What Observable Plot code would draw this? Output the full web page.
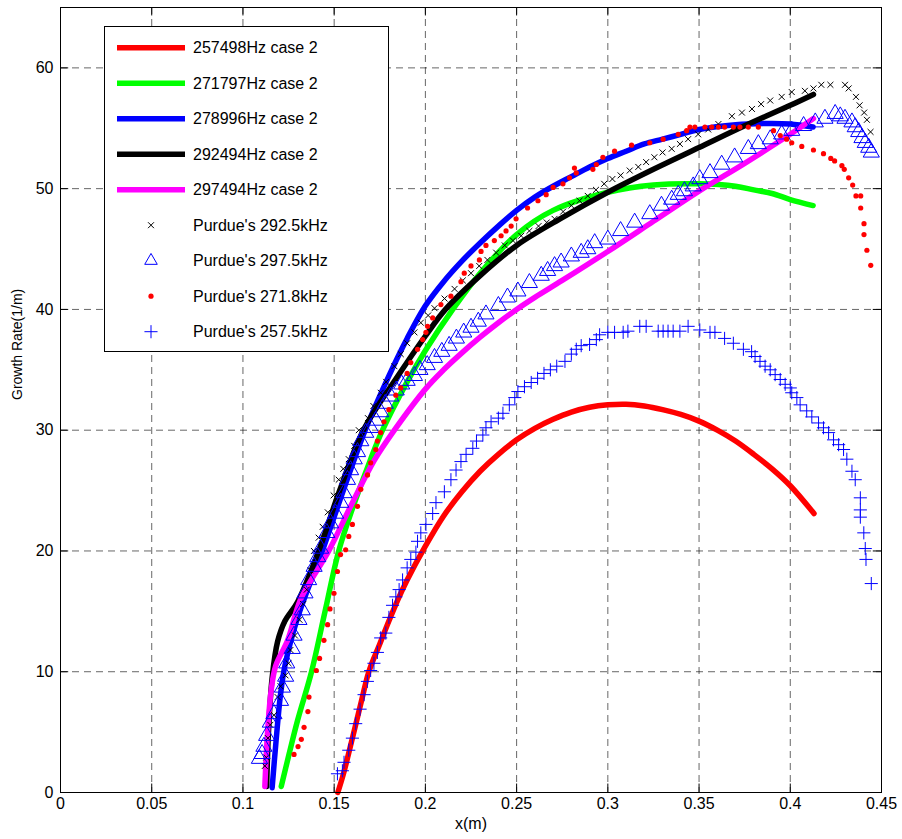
<!DOCTYPE html>
<html>
<head>
<meta charset="utf-8">
<script src="https://cdn.jsdelivr.net/npm/d3@7"></script>
<script src="https://cdn.jsdelivr.net/npm/@observablehq/plot@0.6"></script>
<style>
  html, body { margin: 0; padding: 0; background: #fff; }
  #wrap { position: relative; width: 902px; height: 839px; }
  #legend { position: absolute; left: 0; top: 0; }
</style>
</head>
<body>
<div id="wrap"></div>
<script>
// ---- Data ----
const xTicks = [0, 0.05, 0.1, 0.15, 0.2, 0.25, 0.3, 0.35, 0.4, 0.45];
const yTicks = [0, 10, 20, 30, 40, 50, 60];

const seriesNames = [
  "257498Hz case 2", "271797Hz case 2", "278996Hz case 2", "292494Hz case 2", "297494Hz case 2",
  "Purdue's 292.5kHz", "Purdue's 297.5kHz", "Purdue's 271.8kHz", "Purdue's 257.5kHz"
];

const line257498 = [[0.152,0],[0.155,1.5],[0.16,4.5],[0.165,7.6],[0.169,10],[0.175,12.3],[0.18,14.2],[0.185,16.0],[0.19,17.6],[0.2,20.4],[0.21,22.9],[0.22,24.9],[0.23,26.6],[0.24,28.0],[0.25,29.2],[0.26,30.15],[0.27,30.9],[0.28,31.5],[0.29,31.9],[0.3,32.1],[0.31,32.15],[0.32,32.0],[0.33,31.7],[0.34,31.3],[0.35,30.75],[0.36,30.0],[0.37,29.1],[0.38,28.0],[0.39,26.8],[0.4,25.4],[0.413,23.1]];
const line271797 = [[0.121,0.5],[0.125,3],[0.13,6],[0.1376,10],[0.145,15],[0.1525,20],[0.16,23.5],[0.17,27.6],[0.1765,30],[0.19,34],[0.2,36.6],[0.215,40],[0.23,43],[0.25,46.2],[0.27,48.2],[0.3,49.7],[0.325,50.3],[0.35,50.4],[0.37,50.2],[0.38,49.9],[0.39,49.6],[0.4,49.1],[0.4125,48.6]];
const line278996 = [[0.116,0.4],[0.118,4],[0.1205,8],[0.123,10.5],[0.13,14.5],[0.1435,20],[0.155,25],[0.167,30],[0.18,34.5],[0.19,37.6],[0.2,40.3],[0.21,42.3],[0.22,44.0],[0.23,45.5],[0.24,46.9],[0.25,48.2],[0.26,49.3],[0.27,50.2],[0.28,51.0],[0.29,51.8],[0.3,52.5],[0.31,53.1],[0.32,53.7],[0.33,54.1],[0.34,54.5],[0.35,54.9],[0.37,55.3],[0.39,55.4],[0.4,55.35],[0.4125,55.1]];
const line292494 = [[0.113,0.5],[0.114,5],[0.116,9.5],[0.119,12.5],[0.123,14.2],[0.13,15.8],[0.1415,20],[0.153,25],[0.166,30],[0.185,34.5],[0.2,37.8],[0.211,40],[0.23,42.8],[0.25,45.3],[0.275,47.6],[0.3,49.7],[0.325,51.6],[0.35,53.4],[0.375,55.2],[0.4,56.9],[0.4127,57.8]];
const line297494 = [[0.112,0.5],[0.1135,5],[0.1155,8.5],[0.118,10.5],[0.1245,12.6],[0.1316,16],[0.147,20],[0.16,24],[0.172,27.5],[0.183,30],[0.2,33.4],[0.21,35.0],[0.22,36.4],[0.23,37.7],[0.24,38.9],[0.25,40.0],[0.26,41.0],[0.275,42.4],[0.3,44.8],[0.325,47.3],[0.35,49.8],[0.375,52.1],[0.4,54.5],[0.4127,55.8]];

const purdue292 = [[0.112,2.2],[0.1128,2.9],[0.1137,4.5],[0.115,5.6],[0.117,6.4],[0.119,7.9],[0.1206,8.8],[0.1233,9.7],[0.125,10.7],[0.126,11.8],[0.1285,13.0],[0.131,14.3],[0.133,15.6],[0.135,16.8],[0.137,18.4],[0.1389,20],[0.1415,21.1],[0.1437,22.0],[0.1465,23.2],[0.1497,24.6],[0.1525,25.9],[0.155,26.8],[0.158,27.6],[0.161,28.7],[0.1635,30],[0.1685,31.0],[0.1715,32.0],[0.1755,33.1],[0.1785,34.0],[0.183,35.3],[0.1865,36.3],[0.19,37.2],[0.194,38.1],[0.1975,38.9],[0.2015,39.5],[0.205,40.1],[0.2105,40.9],[0.216,41.7],[0.2205,42.4],[0.225,43.0],[0.2295,43.6],[0.234,44.1],[0.2388,44.7],[0.2435,45.3],[0.248,45.7],[0.2525,46.1],[0.257,46.5],[0.262,46.9],[0.2665,47.2],[0.2708,47.5],[0.2755,48.1],[0.28,48.6],[0.2845,49.0],[0.289,49.4],[0.2935,49.9],[0.298,50.4],[0.3025,50.8],[0.307,51.1],[0.312,51.5],[0.3167,51.8],[0.321,52.2],[0.3255,52.6],[0.33,53.0],[0.335,53.3],[0.3395,53.7],[0.344,54.1],[0.3495,54.5],[0.355,54.9],[0.3606,55.35],[0.368,56.0],[0.3735,56.3],[0.379,56.6],[0.384,57.0],[0.389,57.3],[0.3953,57.6],[0.4008,58.0],[0.408,58.1],[0.4127,58.3],[0.417,58.6],[0.422,58.6],[0.43,58.6],[0.432,58.3],[0.436,57.6],[0.438,56.9],[0.4405,56.3],[0.442,55.7],[0.444,54.7]];

const purdue297 = [[0.109,2.8],[0.1105,3.2],[0.1115,3.8],[0.113,4.7],[0.115,5.8],[0.117,6.5],[0.1206,7.6],[0.1216,8.7],[0.1234,9.6],[0.124,10.7],[0.127,11.9],[0.128,13.0],[0.1307,14.3],[0.1325,15.1],[0.134,16.5],[0.136,17.6],[0.139,18.7],[0.141,19.5],[0.1426,20.2],[0.146,21.5],[0.148,22.3],[0.1508,23.1],[0.1536,24.0],[0.1554,24.8],[0.1573,25.9],[0.159,26.7],[0.161,27.6],[0.1628,28.2],[0.1646,29.1],[0.1673,29.8],[0.17,30.2],[0.1728,30.8],[0.1755,31.5],[0.178,32.2],[0.181,32.8],[0.184,33.3],[0.187,33.8],[0.19,34.1],[0.194,34.5],[0.197,35.0],[0.201,35.4],[0.205,36.0],[0.209,36.5],[0.213,37.0],[0.217,37.6],[0.221,38.1],[0.225,38.5],[0.229,39.0],[0.2332,39.6],[0.24,40.3],[0.245,41.0],[0.2507,41.5],[0.257,42.2],[0.2635,42.8],[0.267,43.2],[0.2708,43.6],[0.2744,43.9],[0.28,44.4],[0.2854,44.7],[0.289,45.0],[0.2928,45.5],[0.3,45.8],[0.307,46.5],[0.3147,47.2],[0.323,47.9],[0.3294,48.6],[0.335,49.1],[0.3386,49.5],[0.342,49.8],[0.3468,50.2],[0.3504,50.8],[0.356,51.3],[0.3624,52.0],[0.3695,52.6],[0.377,53.3],[0.3825,53.7],[0.389,54.1],[0.3953,54.5],[0.4008,54.8],[0.4073,55.2],[0.4137,55.5],[0.419,55.8],[0.4246,56.2],[0.4274,56.0],[0.43,55.8],[0.4338,55.5],[0.4356,55.1],[0.4375,54.7],[0.4393,54.2],[0.4411,53.8],[0.443,53.4],[0.4444,53.0]];

const purdue271 = [[0.128,3.15],[0.1302,3.8],[0.132,4.4],[0.1335,5.4],[0.1356,6.7],[0.1362,7.9],[0.1402,10.1],[0.142,11.1],[0.1444,12.6],[0.1464,13.9],[0.1477,15.2],[0.1499,16.5],[0.1518,18.3],[0.1535,19.7],[0.1563,20.1],[0.158,21.2],[0.16,22.2],[0.1628,23.7],[0.1646,25.1],[0.1683,26.3],[0.17,27.3],[0.1728,28.4],[0.1737,29.1],[0.1755,29.8],[0.1773,30.7],[0.18,31.7],[0.1838,32.9],[0.1865,33.5],[0.19,34.7],[0.192,35.6],[0.1957,36.7],[0.1985,37.5],[0.2003,38.1],[0.2012,38.6],[0.204,39.3],[0.2085,40.4],[0.214,41.1],[0.2195,42.3],[0.2213,43.0],[0.225,43.6],[0.2296,44.1],[0.2305,44.8],[0.2332,45.3],[0.2378,45.7],[0.2415,46.1],[0.2442,46.5],[0.247,46.9],[0.2497,47.5],[0.256,48.4],[0.2617,49.0],[0.2662,49.5],[0.27,50.1],[0.2754,50.4],[0.279,50.9],[0.2817,51.7],[0.2827,51.3],[0.2918,51.6],[0.2937,52.0],[0.2973,52.6],[0.3037,53.1],[0.313,53.6],[0.323,53.8],[0.3303,54.1],[0.3386,54.5],[0.3432,54.8],[0.345,55.1],[0.3477,55.1],[0.3532,55.1],[0.3569,55.1],[0.3606,55.1],[0.364,55.1],[0.3688,55.1],[0.3724,55.1],[0.377,55.1],[0.3825,55.1],[0.3908,54.8],[0.3945,54.4],[0.398,54.1],[0.4008,53.8],[0.4063,53.5],[0.4127,53.2],[0.4182,52.9],[0.4222,52.5],[0.4243,52.3],[0.4283,51.9],[0.4296,51.6],[0.432,50.9],[0.4342,50.3],[0.436,49.4],[0.4386,49.4],[0.4386,48.4],[0.4404,47.1],[0.4404,46.2],[0.442,44.9],[0.4441,43.65]];

const purdue257 = [[0.1518,1.55],[0.1545,1.8],[0.1554,2.5],[0.158,3.5],[0.16,4.5],[0.1618,5.7],[0.1642,6.9],[0.1664,8.1],[0.1682,9.2],[0.17,10.1],[0.1718,10.7],[0.1737,11.6],[0.1755,12.8],[0.1783,13.2],[0.18,14.5],[0.182,15.5],[0.1838,16.2],[0.1856,16.8],[0.1875,17.6],[0.19,18.6],[0.192,19.3],[0.1948,19.9],[0.1957,20.8],[0.1975,21.5],[0.2003,22.2],[0.204,23.1],[0.2058,24.0],[0.2104,24.9],[0.214,25.9],[0.2168,26.7],[0.2195,27.4],[0.2223,28.0],[0.226,28.5],[0.228,29.1],[0.2315,29.6],[0.2332,30.2],[0.236,30.7],[0.24,31.0],[0.2425,31.4],[0.246,32.1],[0.249,32.7],[0.2507,33.2],[0.2543,33.6],[0.258,33.95],[0.2615,34.3],[0.265,34.7],[0.2685,35.0],[0.272,35.3],[0.2765,35.7],[0.28,36.3],[0.2827,36.7],[0.2854,37.0],[0.29,37.1],[0.2937,37.5],[0.2955,37.9],[0.3,38.1],[0.3037,38.1],[0.3084,38.1],[0.311,38.2],[0.3175,38.6],[0.321,38.6],[0.3276,38.2],[0.3303,38.2],[0.333,38.2],[0.3358,38.2],[0.3395,38.2],[0.344,38.6],[0.3504,38.3],[0.356,38.1],[0.3587,38.1],[0.364,37.6],[0.3688,37.2],[0.3743,36.7],[0.3788,36.5],[0.3807,36.1],[0.3834,35.7],[0.3862,35.3],[0.389,35.0],[0.3917,34.6],[0.3945,34.2],[0.3972,33.8],[0.4,33.5],[0.4008,33.1],[0.4036,32.7],[0.4054,32.1],[0.409,31.6],[0.4118,31.1],[0.4155,30.6],[0.4182,30.2],[0.421,29.8],[0.4237,29.2],[0.4265,28.8],[0.4292,28.4],[0.431,27.6],[0.4338,26.6],[0.4356,25.9],[0.4384,24.4],[0.4384,23.4],[0.4384,22.8],[0.4403,21.5],[0.4411,20.2],[0.4415,19.3],[0.4444,17.3]];

// ---- Chart ----
const FONT = "'Liberation Sans', Arial, Helvetica, sans-serif";
const X = d => d[0], Y = d => d[1];
const lineW = 5.5;
const CURVE = "catmull-rom";
const tickLenX = 0.7;      // y units for vertical inner ticks
const tickLenY = 0.0045;   // x units for horizontal inner ticks

const chart = Plot.plot({
  width: 902,
  height: 839,
  marginLeft: 60,
  marginRight: 21,
  marginTop: 7,
  marginBottom: 47,
  style: { fontFamily: FONT, fontSize: "16px", background: "#fff", color: "#000" },
  x: { domain: [0, 0.45], label: null },
  y: { domain: [0, 65], label: null },
  marks: [
    Plot.gridX(xTicks, { stroke: "#000", strokeOpacity: 0.6, strokeDasharray: "7,5", strokeWidth: 1 }),
    Plot.gridY(yTicks, { stroke: "#000", strokeOpacity: 0.6, strokeDasharray: "7,5", strokeWidth: 1 }),
    Plot.ruleX(xTicks, { x: d => d, y1: () => 0, y2: () => tickLenX, stroke: "#000" }),
    Plot.ruleX(xTicks, { x: d => d, y1: () => 65 - tickLenX, y2: () => 65, stroke: "#000" }),
    Plot.ruleY(yTicks, { y: d => d, x1: () => 0, x2: () => tickLenY, stroke: "#000" }),
    Plot.ruleY(yTicks, { y: d => d, x1: () => 0.45 - tickLenY, x2: () => 0.45, stroke: "#000" }),
    Plot.axisX(xTicks, { tickSize: 0, tickPadding: 5, tickFormat: d => String(d), label: null, fill: "#000" }),
    Plot.axisY(yTicks, { tickSize: 0, tickPadding: 7, tickFormat: d => String(d), label: null, fill: "#000" }),
    Plot.line(line257498, { x: X, y: Y, stroke: "#ff0000", strokeWidth: lineW, curve: CURVE }),
    Plot.line(line271797, { x: X, y: Y, stroke: "#00ff00", strokeWidth: lineW, curve: CURVE }),
    Plot.line(line278996, { x: X, y: Y, stroke: "#0000ff", strokeWidth: lineW, curve: CURVE }),
    Plot.line(line292494, { x: X, y: Y, stroke: "#000000", strokeWidth: lineW, curve: CURVE }),
    Plot.line(line297494, { x: X, y: Y, stroke: "#ff00ff", strokeWidth: lineW, curve: CURVE }),
    Plot.dot(purdue292, { x: X, y: Y, symbol: "times", r: 2.8, stroke: "#000", strokeWidth: 1 }),
    Plot.dot(purdue297, { x: X, y: Y, symbol: "triangle", r: 6, stroke: "#0000ff", fill: "none", strokeWidth: 1 }),
    Plot.dot(purdue271, { x: X, y: Y, r: 2.6, fill: "#ff0000", stroke: "none" }),
    Plot.dot(purdue257, { x: X, y: Y, symbol: "plus", r: 4.3, stroke: "#0000ff", strokeWidth: 1 }),
    Plot.frame({ stroke: "#000", strokeWidth: 1 }),
    Plot.text(["x(m)"], { text: d => d, frameAnchor: "bottom", dy: 36, fontSize: 16, fill: "#000" }),
    Plot.text(["Growth Rate(1/m)"], { text: d => d, frameAnchor: "left", dx: -43, rotate: -90, fontSize: 14, fill: "#000" })
  ]
});

const wrap = document.getElementById("wrap");
wrap.appendChild(chart);

// ---- Legend (overlay inside the axes) ----
const legendColors = ["#ff0000", "#00ff00", "#0000ff", "#000000", "#ff00ff"];
const lg = d3.select(wrap).append("svg")
  .attr("id", "legend").attr("width", 902).attr("height", 839)
  .style("font-family", FONT).style("font-size", "16px");
lg.append("rect").attr("x", 104.5).attr("y", 26.5).attr("width", 284).attr("height", 325)
  .attr("fill", "#fff").attr("stroke", "#000").attr("stroke-width", 1);
const rowY = i => 47.7 + i * 35.5;
seriesNames.forEach((name, i) => {
  const y = rowY(i);
  if (i < 5) {
    lg.append("line").attr("x1", 117).attr("x2", 185).attr("y1", y).attr("y2", y)
      .attr("stroke", legendColors[i]).attr("stroke-width", lineW);
  } else {
    const cx = 151;
    if (i === 5) {
      lg.append("path").attr("d", d3.symbol(d3.symbolTimes, Math.PI * 2.8 * 2.8)())
        .attr("transform", `translate(${cx},${y})`).attr("fill", "none").attr("stroke", "#000");
    } else if (i === 6) {
      lg.append("path").attr("d", d3.symbol(d3.symbolTriangle2, Math.PI * 36)())
        .attr("transform", `translate(${cx},${y})`).attr("fill", "none").attr("stroke", "#0000ff");
    } else if (i === 7) {
      lg.append("circle").attr("cx", cx).attr("cy", y).attr("r", 2.6).attr("fill", "#ff0000");
    } else {
      lg.append("path").attr("d", d3.symbol(d3.symbolPlus, Math.PI * 4.3 * 4.3)())
        .attr("transform", `translate(${cx},${y})`).attr("fill", "none").attr("stroke", "#0000ff");
    }
  }
  lg.append("text").attr("x", 193).attr("y", y).attr("dy", "0.35em").attr("fill", "#000").text(name);
});
</script>
</body>
</html>
